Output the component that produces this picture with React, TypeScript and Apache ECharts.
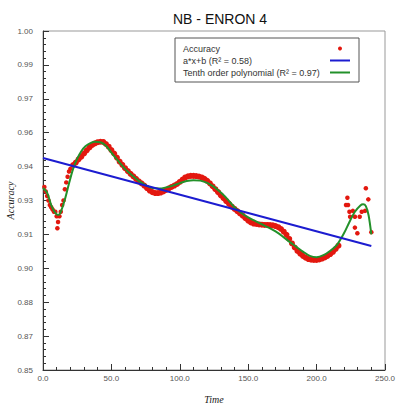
import React, { useEffect, useRef } from "react";
import * as echarts from "echarts";

const titleText = "NB - ENRON 4";
const seriesNames = ["Accuracy", "a*x+b (R² = 0.58)", "Tenth order polynomial (R² = 0.97)"];

const yTickValues = [0.85, 0.865, 0.88, 0.895, 0.91, 0.925, 0.94, 0.955, 0.97, 0.985, 1.0];
const yTickLabels = ["0.85", "0.87", "0.88", "0.90", "0.91", "0.93", "0.94", "0.96", "0.97", "0.99", "1.00"];
const xTickLabels = ["0.0", "50.0", "100.0", "150.0", "200.0", "250.0"];

// scattered accuracy points at the start
const accuracyStart: [number, number][] = [
  [1, 0.931], [2, 0.929], [3, 0.927], [4, 0.925], [5, 0.923], [6, 0.922], [7, 0.921],
  [8, 0.92], [9, 0.92], [10, 0.918], [10.5, 0.9127], [11, 0.9155], [12, 0.918], [13, 0.92],
  [14, 0.923], [15, 0.925], [16, 0.93], [17, 0.933], [18, 0.9355], [19, 0.9378], [20, 0.939],
];

// dense accuracy points
const accuracyMain: [number, number][] = [
  [22, 0.9407], [24, 0.9418], [26, 0.9432], [28, 0.9444], [30, 0.9458], [32, 0.9472], [34, 0.9485],
  [36, 0.9496], [38, 0.9503], [40, 0.9508], [42, 0.951], [44, 0.9509], [46, 0.95], [48, 0.9488],
  [50, 0.9473], [52, 0.9458], [54, 0.944], [56, 0.9422], [58, 0.9408], [60, 0.9393], [62, 0.938],
  [64, 0.9368], [66, 0.9357], [68, 0.9346], [70, 0.9335], [72, 0.9326], [74, 0.9316], [76, 0.9305],
  [78, 0.9294], [80, 0.9287], [82, 0.9283], [84, 0.9283], [86, 0.9285], [88, 0.929], [90, 0.9297],
  [92, 0.9304], [94, 0.931], [96, 0.9316], [98, 0.9323], [100, 0.9332], [102, 0.9343], [104, 0.9352],
  [106, 0.9357], [108, 0.9359], [110, 0.9359], [112, 0.9358], [114, 0.9356], [116, 0.9352], [118, 0.9346],
  [120, 0.9337], [122, 0.9326], [124, 0.9313], [126, 0.93], [128, 0.9287], [130, 0.9273], [132, 0.926],
  [134, 0.9247], [136, 0.9235], [138, 0.9223], [140, 0.9213], [142, 0.9203], [144, 0.9193], [146, 0.9183],
  [148, 0.9172], [150, 0.9161], [152, 0.9153], [154, 0.9148], [156, 0.9146], [158, 0.9144], [160, 0.9143],
  [162, 0.9142], [164, 0.9142], [166, 0.9141], [168, 0.914], [170, 0.9137], [172, 0.9132], [174, 0.9124],
  [176, 0.9112], [178, 0.9098], [180, 0.908], [182, 0.906], [184, 0.9042], [186, 0.9027], [188, 0.9015],
  [190, 0.9005], [192, 0.8997], [194, 0.8991], [196, 0.8988], [198, 0.8987], [200, 0.8987], [202, 0.8989],
  [204, 0.8993], [206, 0.8998], [208, 0.9005], [210, 0.9013], [212, 0.9023], [214, 0.9036], [216, 0.905],
];

// scattered accuracy points at the end
const accuracyEnd: [number, number][] = [
  [221.5, 0.923], [222.5, 0.9262], [223, 0.923], [224, 0.92], [224.5, 0.9178], [226.5, 0.9204],
  [228, 0.9178], [228, 0.913], [229.8, 0.9105], [231.5, 0.9178], [233, 0.92], [235.4, 0.9204],
  [236, 0.9304], [237.8, 0.9255], [240, 0.911],
];

const linearFit: [number, number][] = [
  [0, 0.9438],
  [240, 0.9049],
];

const polyFit: [number, number][] = [
  [0, 0.9305], [3, 0.9285], [6, 0.923], [9, 0.9195], [11, 0.9186], [13, 0.92], [16, 0.9255],
  [19, 0.9325], [22, 0.939], [25, 0.9435], [28, 0.9468], [31, 0.949], [35, 0.9505], [38, 0.951],
  [42, 0.9508], [46, 0.9492], [50, 0.9462], [55, 0.9425], [60, 0.939], [65, 0.9362], [70, 0.9337],
  [75, 0.9318], [80, 0.9305], [85, 0.9303], [90, 0.9308], [95, 0.9316], [100, 0.9327], [105, 0.9336],
  [110, 0.934], [115, 0.9338], [120, 0.9328], [125, 0.931], [130, 0.9285], [135, 0.9255], [140, 0.922],
  [145, 0.9195], [150, 0.9175], [155, 0.916], [160, 0.9145], [165, 0.913], [170, 0.9113], [175, 0.9092],
  [180, 0.9068], [185, 0.9046], [190, 0.9024], [195, 0.9005], [200, 0.8999], [205, 0.9008], [210, 0.9028],
  [215, 0.9055], [220, 0.9105], [224, 0.9155], [228, 0.92], [232, 0.9228], [234, 0.9233], [236, 0.9225],
  [238, 0.9185], [240, 0.91],
];

const yMinorValues: number[] = [];
for (let i = 0; i < yTickValues.length - 1; i++) {
  const step = (yTickValues[i + 1] - yTickValues[i]) / 5;
  for (let k = 1; k < 5; k++) yMinorValues.push(yTickValues[i] + step * k);
}

const axisColor = "#333";
const redColor = "#e3180f";
const labelFont = { fontFamily: "Arial, 'Liberation Sans', sans-serif", fontSize: 8, color: "#555" };
const nameFont = { fontFamily: "'Liberation Serif', 'DejaVu Serif', serif", fontStyle: "italic" as const, fontSize: 10, color: "#222" };

export default function App() {
  const ref = useRef<HTMLDivElement>(null);
  useEffect(() => {
    if (!ref.current) return;
    const chart = echarts.init(ref.current, null, { renderer: "svg" });
    const option: any = {
      animation: false,
      backgroundColor: "#fff",
      title: {
        text: titleText,
        left: 168,
        top: 7,
        textStyle: { fontFamily: "Arial, 'Liberation Sans', sans-serif", fontSize: 14, fontWeight: "normal", color: "#111" },
      },
      grid: {
        left: 43, right: 17, top: 31, bottom: 39,
        show: true, borderColor: "#999", borderWidth: 1,
        containLabel: false, outerBoundsMode: "none",
      },
      legend: {
        orient: "vertical",
        left: 175,
        top: 38,
        align: "right",
        itemWidth: 20,
        itemHeight: 4,
        itemGap: 3,
        padding: [6, 8, 5, 8],
        borderColor: "#555",
        borderWidth: 1,
        backgroundColor: "#fff",
        formatter: (n: string) => `{t|${n}}`,
        textStyle: {
          fontFamily: "Arial, 'Liberation Sans', sans-serif",
          fontSize: 9,
          color: "#333",
          rich: { t: { width: 142, align: "left", fontSize: 9, lineHeight: 11, color: "#333", fontFamily: "Arial, 'Liberation Sans', sans-serif" } },
        },
        data: [
          { name: seriesNames[0], icon: "circle" },
          { name: seriesNames[1], itemStyle: { opacity: 0 } },
          { name: seriesNames[2], itemStyle: { opacity: 0 } },
        ],
      },
      xAxis: {
        type: "value",
        min: 0,
        max: 250,
        interval: 50,
        name: "Time",
        nameLocation: "middle",
        nameGap: 24,
        nameMoveOverlap: false,
        nameTextStyle: nameFont,
        axisLine: { show: true, lineStyle: { color: axisColor } },
        axisTick: { show: true, inside: true, length: 6, lineStyle: { color: axisColor } },
        minorTick: { show: true, splitNumber: 5, length: 3, lineStyle: { color: axisColor } },
        axisLabel: { ...labelFont, margin: 4, formatter: (v: number) => xTickLabels[Math.round(v / 50)] ?? "" },
        splitLine: { show: false },
        minorSplitLine: { show: false },
      },
      yAxis: [
        {
          type: "value",
          min: 0.85,
          max: 1.0,
          name: "Accuracy",
          nameLocation: "middle",
          nameGap: 28,
          nameMoveOverlap: false,
          nameTextStyle: nameFont,
          axisLine: { show: true, lineStyle: { color: axisColor } },
          axisTick: { show: true, inside: true, length: 6, customValues: yTickValues, lineStyle: { color: axisColor } },
          axisLabel: {
            ...labelFont,
            margin: 10,
            customValues: yTickValues,
            formatter: (v: number) => {
              let best = 0;
              for (let i = 1; i < yTickValues.length; i++) {
                if (Math.abs(yTickValues[i] - v) < Math.abs(yTickValues[best] - v)) best = i;
              }
              return yTickLabels[best];
            },
          },
          splitLine: { show: false },
        },
        {
          type: "value",
          min: 0.85,
          max: 1.0,
          position: "left",
          offset: 0,
          axisLine: { show: false },
          axisTick: { show: true, inside: true, length: 3, customValues: yMinorValues, lineStyle: { color: axisColor } },
          axisLabel: { show: false },
          splitLine: { show: false },
        },
      ],
      series: [
        {
          name: seriesNames[0],
          type: "scatter",
          data: accuracyMain,
          symbolSize: 6,
          itemStyle: { color: redColor, opacity: 1 },
          z: 2,
        },
        {
          name: seriesNames[0],
          type: "scatter",
          data: [...accuracyStart, ...accuracyEnd],
          symbolSize: 4.5,
          itemStyle: { color: redColor, opacity: 1 },
          z: 2,
        },
        {
          name: seriesNames[2],
          type: "line",
          data: polyFit,
          smooth: 0.3,
          symbol: "none",
          lineStyle: { color: "#23912a", width: 2 },
          itemStyle: { color: "#23912a" },
          z: 3,
        },
        {
          name: seriesNames[1],
          type: "line",
          data: linearFit,
          symbol: "none",
          lineStyle: { color: "#1c1cd0", width: 2 },
          itemStyle: { color: "#1c1cd0" },
          z: 4,
        },
      ],
    };
    chart.setOption(option);
    return () => chart.dispose();
  }, []);
  return <div ref={ref} style={{ width: 402, height: 409, position: "absolute", left: 0, top: 0 }} />;
}
